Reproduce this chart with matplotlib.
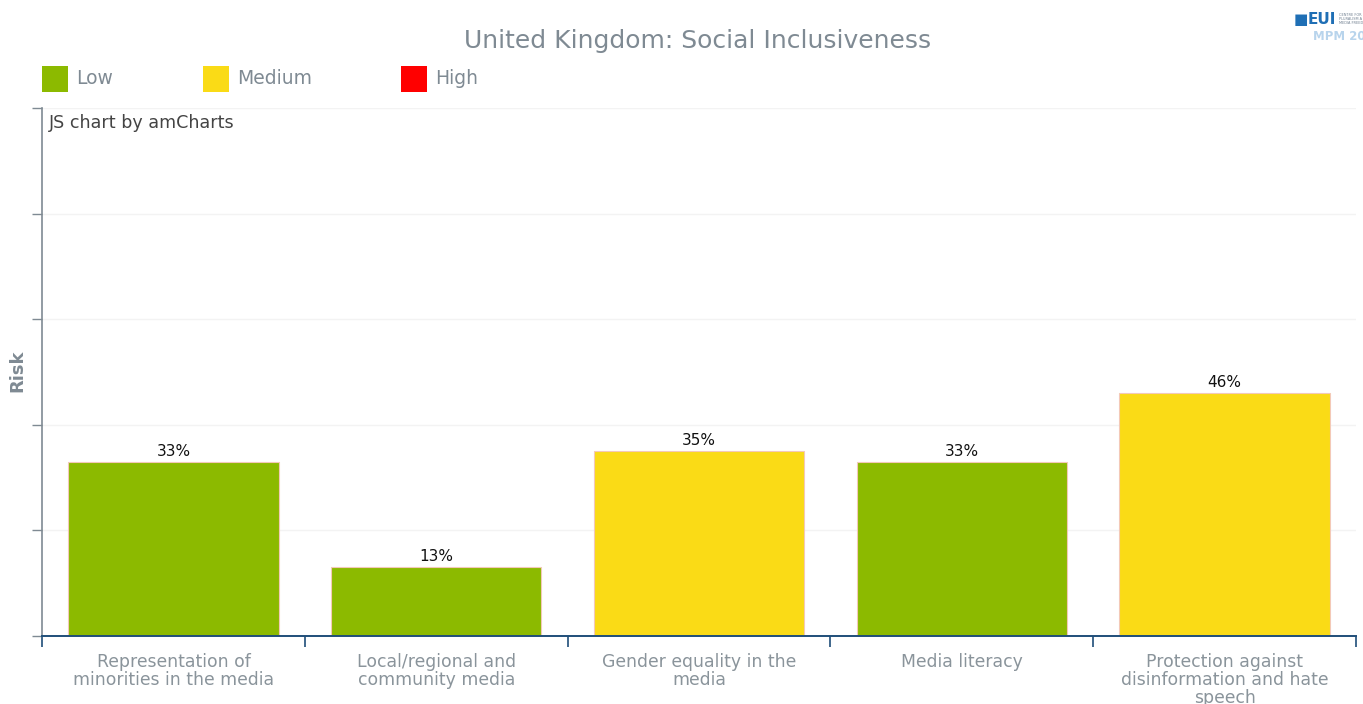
import matplotlib
matplotlib.use("Agg")
import matplotlib.pyplot as plt
from matplotlib.patches import Rectangle

categories = [
    "Representation of\nminorities in the media",
    "Local/regional and\ncommunity media",
    "Gender equality in the\nmedia",
    "Media literacy",
    "Protection against\ndisinformation and hate\nspeech",
]
values = [33, 13, 35, 33, 46]
risk_levels = ["Low", "Low", "Medium", "Low", "Medium"]

legend_levels = ["Low", "Medium", "High"]
level_colors = {"Low": "#8cba00", "Medium": "#fadb16", "High": "#ff0000"}

TEXT_GRAY = "#7f8a93"
W, H = 1363, 704

fig = plt.figure(figsize=(W / 100, H / 100), dpi=100)
ax = fig.add_axes([42 / W, 1 - 636 / H, (1356 - 42) / W, (636 - 108) / H])

x = list(range(len(categories)))
bar_colors = [level_colors[r] for r in risk_levels]
bars = ax.bar(x, values, width=0.8, color=bar_colors, edgecolor="#f3c9b8",
              linewidth=0.8, zorder=2)

for b, v in zip(bars, values):
    ax.text(b.get_x() + b.get_width() / 2, v + 0.6, f"{v}%", ha="center",
            va="bottom", fontsize=11, color="#111111", zorder=4)

ax.set_xlim(-0.5, len(categories) - 0.5)
ax.set_ylim(0, 100)
ax.set_yticks([0, 20, 40, 60, 80, 100])
ax.set_yticklabels([])
ax.tick_params(axis="y", length=7, color=TEXT_GRAY, width=1)
ax.yaxis.grid(True, color="#eeeeee", linewidth=1)
for gl in ax.get_ygridlines():
    gl.set_zorder(3)
    gl.set_alpha(0.7)

# category boundaries as x ticks, labels drawn below the axis
ax.set_xticks([i - 0.5 for i in range(len(categories) + 1)])
ax.set_xticklabels([])
ax.tick_params(axis="x", direction="out", length=8, color="#1f4e79", width=1.2)
for i, c in enumerate(categories):
    ax.text(i, -3.3, c, ha="center", va="top", fontsize=12.4, color="#8a949b",
            linespacing=1.0, transform=ax.transData, clip_on=False)

for s in ["top", "right"]:
    ax.spines[s].set_visible(False)
ax.spines["left"].set_color(TEXT_GRAY)
ax.spines["left"].set_linewidth(1.2)
ax.spines["bottom"].set_color("#1f4e79")
ax.spines["bottom"].set_linewidth(1.4)

fig.text(17 / W, 1 - 371 / H, "Risk", rotation=90, ha="center", va="center",
         fontsize=13, fontweight="bold", color=TEXT_GRAY)

ax.text(7 / 1314, 1 - 15 / 528, "JS chart by amCharts", transform=ax.transAxes,
        ha="left", va="center", fontsize=12.6, color="#444444")

fig.text(698 / W, 1 - 41 / H, "United Kingdom: Social Inclusiveness", ha="center",
         va="center", fontsize=18, color=TEXT_GRAY)

# legend
legend_x = [42, 203, 401]
for lx, lvl in zip(legend_x, legend_levels):
    fig.add_artist(Rectangle((lx / W, 1 - 92 / H), 26 / W, 26 / H,
                             transform=fig.transFigure, facecolor=level_colors[lvl],
                             edgecolor="none"))
    fig.text((lx + 34) / W, 1 - 79 / H, lvl, ha="left", va="center",
             fontsize=13.5, color=TEXT_GRAY)

# logo
fig.text(1294 / W, 1 - 19 / H, "\u25A0", ha="left", va="center", fontsize=11,
         color="#1f6fb5")
fig.text(1308 / W, 1 - 19 / H, "EUI", ha="left", va="center", fontsize=11,
         fontweight="bold", color="#1f6fb5")
fig.text(1339 / W, 1 - 19 / H, "CENTRE FOR\nPLURALISM A\nMEDIA FREED", ha="left",
         va="center", fontsize=2.5, color="#6f7f8f", linespacing=1.1)
fig.text(1313 / W, 1 - 36 / H, "MPM 20", ha="left", va="center", fontsize=8.5,
         fontweight="bold", color="#b8d4ec")

fig.savefig("out.png", dpi=100, facecolor="white")
